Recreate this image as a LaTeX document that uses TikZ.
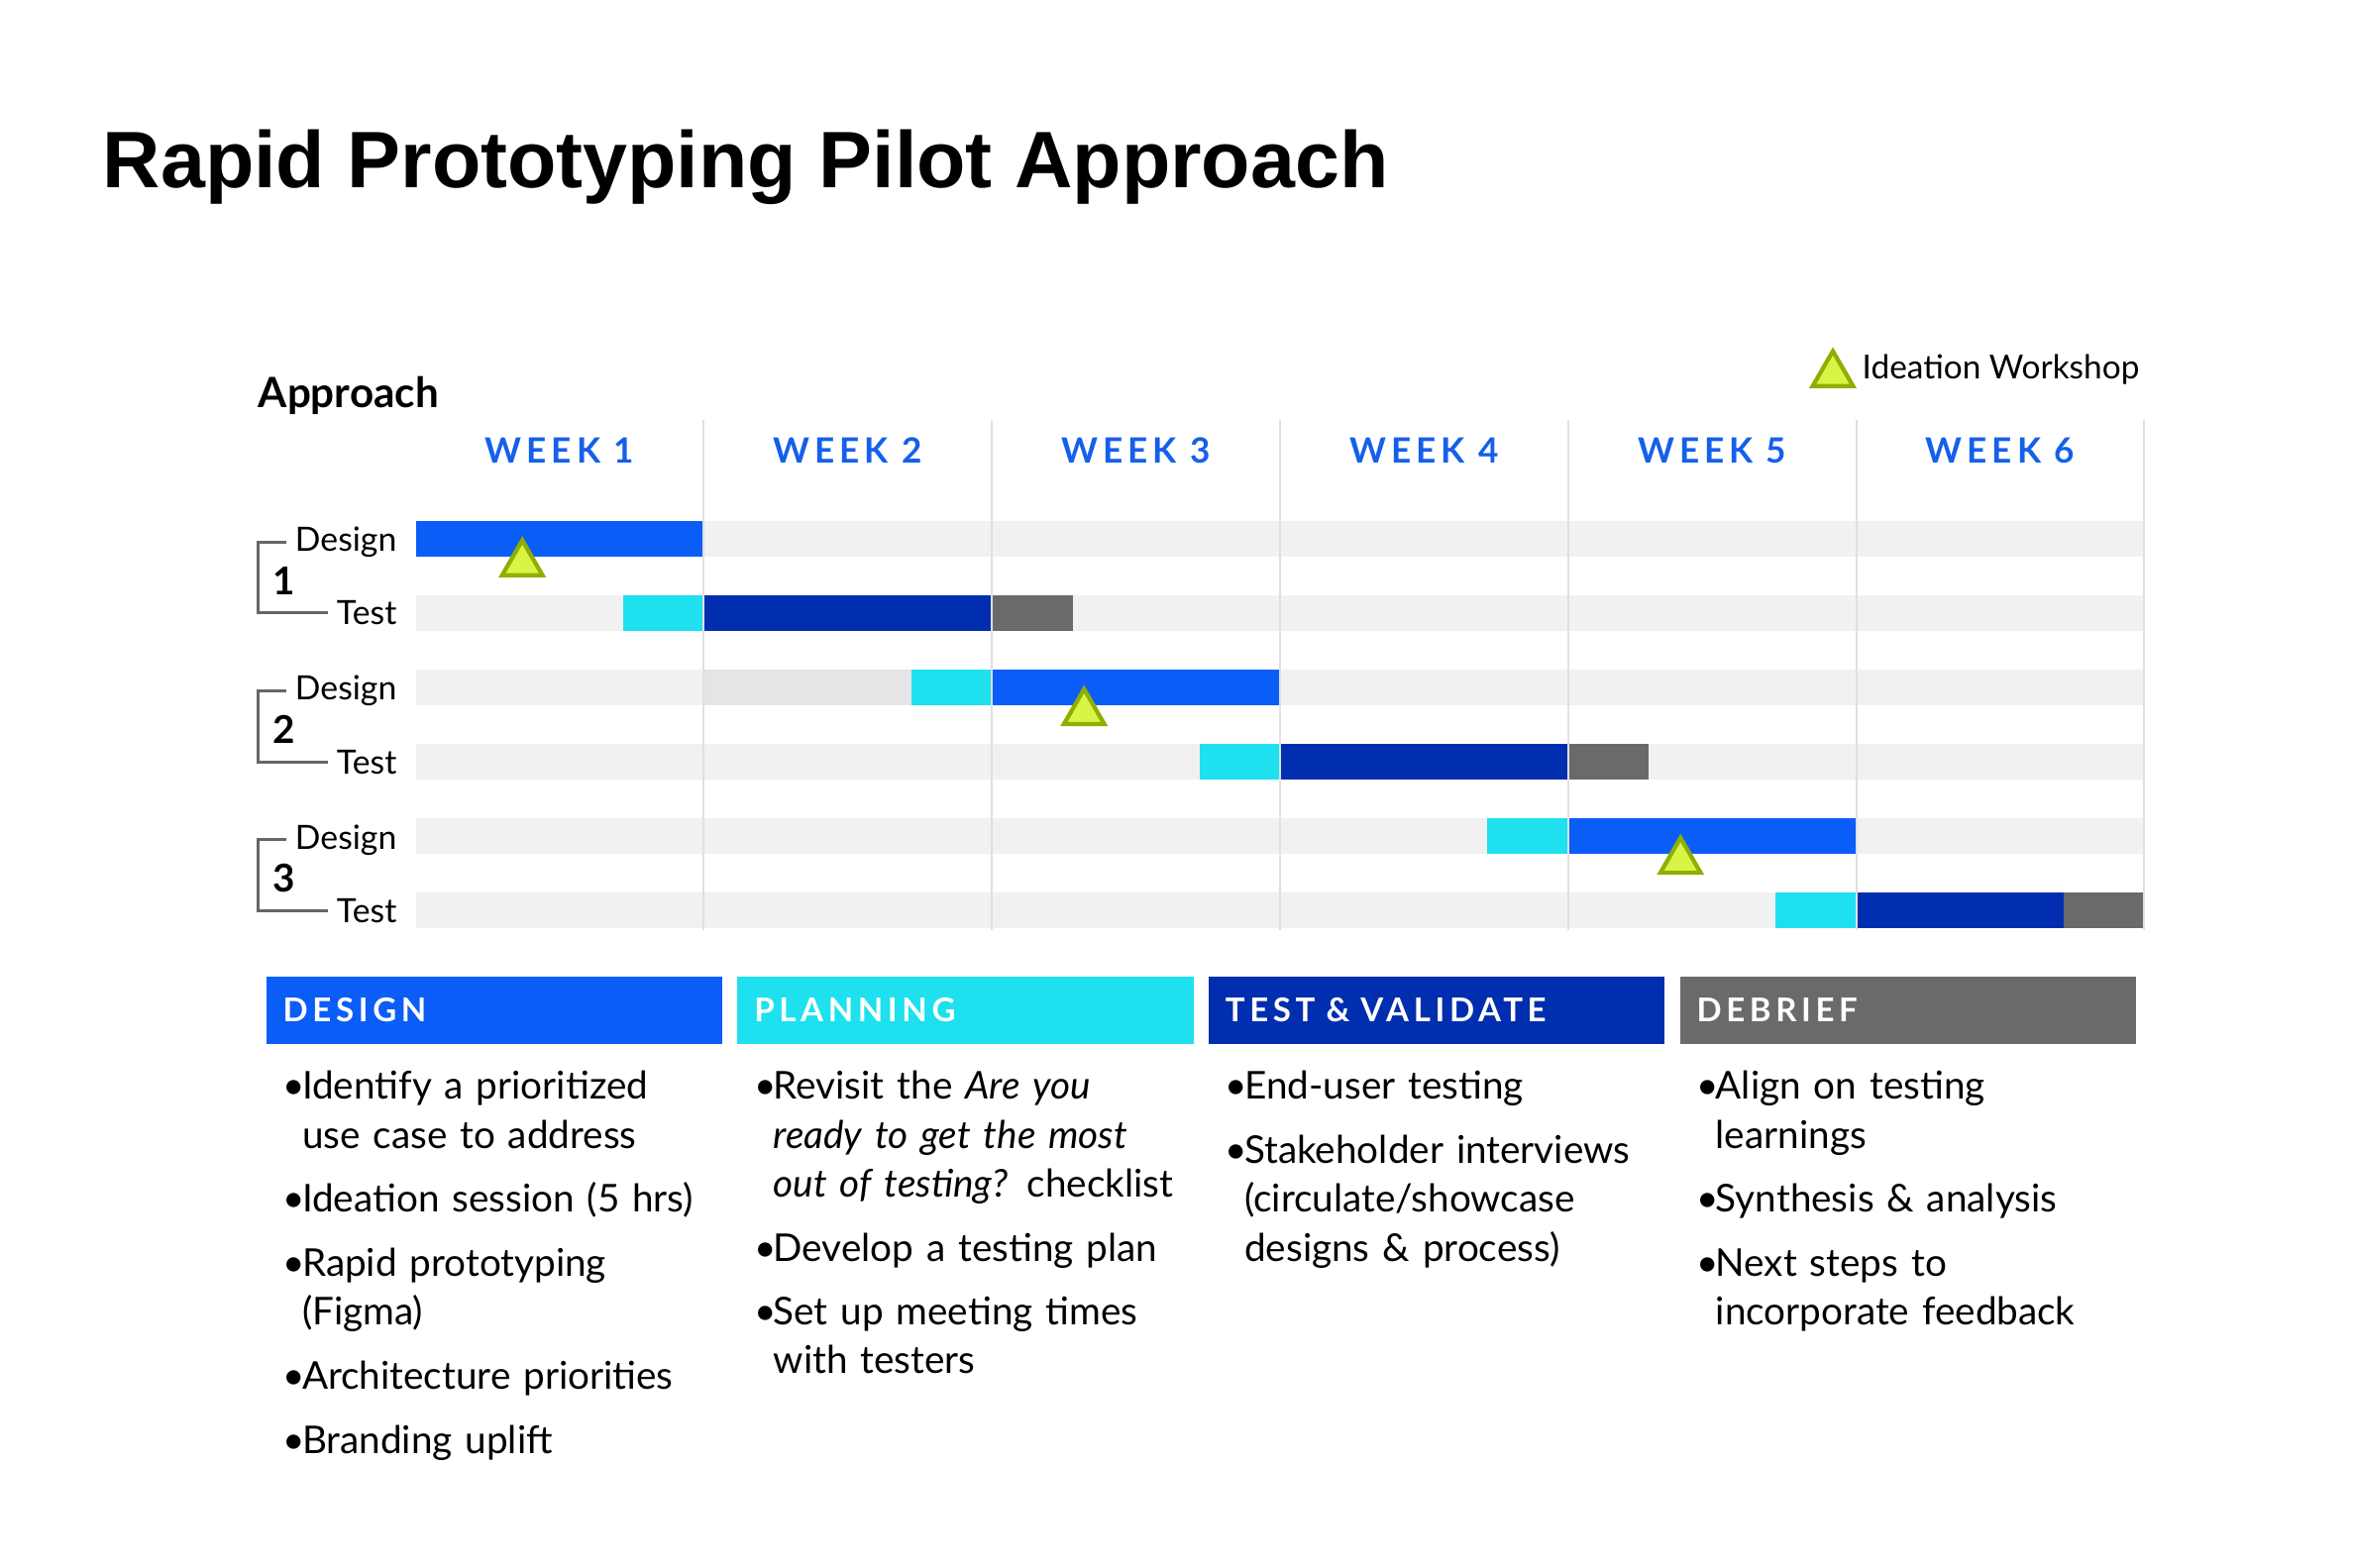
\documentclass[tikz,border=0pt]{standalone}
\usepackage{fontspec}
\setmainfont{Lato}
\newfontfamily\headfont{Liberation Sans}
\newfontfamily\capsfont[LetterSpace=14]{Lato}
\usepackage{xcolor}
\usepackage{tikz}
\usetikzlibrary{shapes.geometric,positioning}
\def\weekw{2.908}
\def\chartx{4.196}
\def\rowtop{10.392}
\def\rowsep{0.751}
\def\barh{0.364}
\def\phasesep{4.756}

\definecolor{dsgnblue}{HTML}{0B5DF8}
\definecolor{plancyan}{HTML}{1EE0EF}
\definecolor{testblue}{HTML}{002EAE}
\definecolor{debriefgray}{HTML}{6A6A6A}
\definecolor{bandgray}{HTML}{F1F1F1}
\definecolor{banddark}{HTML}{E5E5E5}
\definecolor{gridgray}{HTML}{E0E0E0}
\definecolor{weekblue}{HTML}{1560EA}
\definecolor{wsfill}{HTML}{D8F546}
\definecolor{wsdraw}{HTML}{90AE00}
\definecolor{brackgray}{HTML}{666666}

\newcommand{\bpt}[1]{\hangindent=5.5pt\hangafter=1\noindent\makebox[5.5pt][l]{\textbullet}#1\par\vspace{4.4pt}}

\begin{document}
\begin{tikzpicture}
    \tikzstyle{week label}=[anchor=base, text=weekblue, font=\capsfont\bfseries\fontsize{10}{12}\selectfont]
    \tikzstyle{row label}=[anchor=base east, inner xsep=0.08cm, font=\fontsize{9.6}{11}\selectfont]
    \tikzstyle{group num}=[anchor=base, inner sep=0pt, font=\bfseries\fontsize{11}{13}\selectfont]
    \tikzstyle{bracket}=[draw=brackgray, line width=0.85pt]
    \tikzstyle{ideation}=[regular polygon, regular polygon sides=3, minimum size=0.47cm, inner sep=0pt, fill=wsfill, draw=wsdraw, line width=1.2pt]
    \tikzstyle{phase}=[anchor=north west, minimum width=4.605cm, minimum height=0.68cm, text width=4.265cm, inner xsep=0.17cm, inner ysep=0pt, align=left, text=white, font=\capsfont\bfseries\fontsize{9.4}{11}\selectfont]
    \tikzstyle{bullets}=[anchor=base west, inner sep=0pt, text width=4.5cm, align=left, font=\fontsize{11}{14}\selectfont]

    \useasboundingbox (0,0) rectangle (23.75,15.83);

    \node[anchor=base west, inner sep=0pt, font=\headfont\bfseries\fontsize{23}{28}\selectfont] (title) at (1.03,13.93) {Rapid Prototyping Pilot Approach};
    \node[anchor=base west, inner sep=0pt, font=\bfseries\fontsize{12}{14}\selectfont] (approach) at (2.60,11.71) {Approach};

    % Legend
    \node[ideation] (ws-key) at (18.50,12.05) {};
    \node[right=0.13cm of ws-key, yshift=0.05cm, inner sep=0pt, font=\fontsize{9.5}{11}\selectfont] (ws-text) {Ideation Workshop};

    % Draw the row bands
    \foreach \r in {1,...,6}
        \fill[bandgray] (\chartx,{\rowtop-(\r-1)*\rowsep-\barh/2}) rectangle ({\chartx+6*\weekw},{\rowtop-(\r-1)*\rowsep+\barh/2});

    % Draw the bars (row / start / end / colour, in weeks)
    \foreach \r/\a/\b/\c in {1/0/1/dsgnblue, 2/0.72/1/plancyan, 2/1/2/testblue, 2/2/2.28/debriefgray,
        3/1/1.72/banddark, 3/1.72/2/plancyan, 3/2/3/dsgnblue, 4/2.72/3/plancyan, 4/3/4/testblue, 4/4/4.28/debriefgray,
        5/3.72/4/plancyan, 5/4/5/dsgnblue, 6/4.72/5/plancyan, 6/5/5.72/testblue, 6/5.72/6/debriefgray}
        \fill[\c] ({\chartx+\a*\weekw},{\rowtop-(\r-1)*\rowsep-\barh/2}) rectangle ({\chartx+\b*\weekw},{\rowtop-(\r-1)*\rowsep+\barh/2});

    % Draw the week columns
    \foreach \k in {1,...,6}
        \draw[gridgray, line width=0.6pt] ({\chartx+\k*\weekw},6.44) -- ({\chartx+\k*\weekw},11.59);
    \foreach \k in {1,...,6}
        \node[week label] (wk-\k) at ({\chartx+(\k-0.5)*\weekw},11.15) {WEEK \k};

    % Row labels and brackets
    \foreach \g in {1,2,3} {
        \pgfmathsetmacro{\yd}{\rowtop-(2*\g-2)*\rowsep}
        \pgfmathsetmacro{\yt}{\rowtop-(2*\g-1)*\rowsep}
        \node[row label] (dsg-\g) at (4.09,\yd-0.13) {Design};
        \node[row label] (tst-\g) at (4.09,\yt-0.12) {Test};
        \node[group num] (grp-\g) at (2.87,\yd-0.565) {\g};
        \draw[bracket] (dsg-\g.west) -- ++(-0.29,0) |- (tst-\g.west);
    }

    % Ideation workshops
    \foreach \r/\t in {1/0.37, 3/2.32, 5/4.39}
        \node[ideation] (ws-\r) at ({\chartx+\t*\weekw},{\rowtop-(\r-1)*\rowsep-\barh/2-0.07}) {};

    % Phase headers
    \foreach \i/\t/\c in {0/DESIGN/dsgnblue, 1/PLANNING/plancyan, 2/TEST \& VALIDATE/testblue, 3/DEBRIEF/debriefgray}
        \node[phase, fill=\c] (phase-\i) at ({2.68+\i*\phasesep},5.98) {\t};

    % Phase activities
    \node[bullets] (list-0) at (2.85,4.73) {%
        \bpt{Identify a prioritized\newline use case to address}
        \bpt{Ideation session (5 hrs)}
        \bpt{Rapid prototyping\newline (Figma)}
        \bpt{Architecture priorities}
        \bpt{Branding uplift}};
    \node[bullets] (list-1) at ({2.85+\phasesep},4.73) {%
        \bpt{Revisit the {\itshape Are you}\newline {\itshape ready to get the most}\newline {\itshape out of testing?} checklist}
        \bpt{Develop a testing plan}
        \bpt{Set up meeting times\newline with testers}};
    \node[bullets] (list-2) at ({2.85+2*\phasesep},4.73) {%
        \bpt{End-user testing}
        \bpt{Stakeholder interviews\newline (circulate/showcase\newline designs \& process)}};
    \node[bullets] (list-3) at ({2.85+3*\phasesep},4.73) {%
        \bpt{Align on testing\newline learnings}
        \bpt{Synthesis \& analysis}
        \bpt{Next steps to\newline incorporate feedback}};

\end{tikzpicture}
\end{document}
